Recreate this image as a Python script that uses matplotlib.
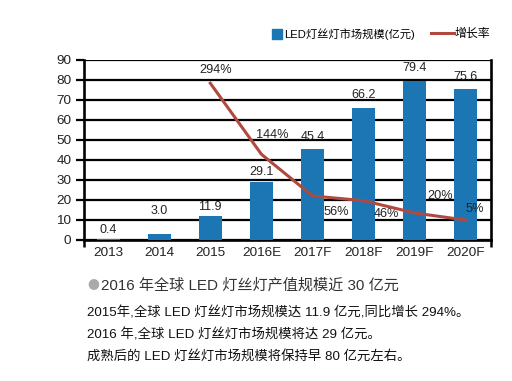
import matplotlib
matplotlib.use('Agg')
import matplotlib.pyplot as plt
from matplotlib.patches import Patch
from matplotlib.lines import Line2D

plt.rcParams['font.family'] = ['Liberation Sans', 'Noto Sans CJK SC', 'DejaVu Sans']

years = ['2013', '2014', '2015', '2016E', '2017F', '2018F', '2019F', '2020F']
market = [0.4, 3.0, 11.9, 29.1, 45.4, 66.2, 79.4, 75.6]
growth_years = ['2015', '2016E', '2017F', '2018F', '2019F', '2020F']
growth = [294, 144, 56, 46, 20, 5]
growth_labels = ['294%', '144%', '56%', '46%', '20%', '5%']
yticks = [0, 10, 20, 30, 40, 50, 60, 70, 80, 90]

bar_color = '#1b76b3'
line_color = '#b0493f'

# label offsets in pixels (x, y)
bar_lab_off = [9, 23, 9, 10, 12, 13, 13, 12]
growth_lab_off = [(5, 13), (11, 19), (24, -16), (23, -13), (25, 17), (9, 11)]


def main():
    fig = plt.figure(figsize=(5.12, 3.81), dpi=100)
    ax = fig.add_axes([84 / 512, 1 - 240 / 381, (491 - 84) / 512, 180 / 381])

    xs = list(range(len(years)))
    ax.bar(xs, market, width=0.45, color=bar_color, zorder=3)
    for x, v, off in zip(xs, market, bar_lab_off):
        ax.annotate('%.1f' % v, (x, v), xytext=(0, off), textcoords='offset pixels',
                    ha='center', va='center', fontsize=9, color='#222222', zorder=5)

    ax.set_xlim(-0.47, 7.49)
    ax.set_ylim(0, 90)
    ax.set_yticks(yticks)
    ax.set_xticks(xs)
    ax.set_xticklabels(years)
    ax.yaxis.grid(True, color='black', linewidth=1.6, zorder=1)
    ax.set_axisbelow(True)
    ax.tick_params(axis='y', direction='out', length=6, width=1.6, labelsize=9.7, pad=3,
                   right=True, colors='black')
    ax.tick_params(axis='x', length=0, labelsize=9.7, pad=5)
    ax.set_xticks([-0.47, 7.49], minor=True)
    ax.tick_params(axis='x', which='minor', direction='out', length=5, width=1.8)
    for s in ['left', 'right', 'bottom']:
        ax.spines[s].set_linewidth(1.9)
        ax.spines[s].set_color('black')
    ax.spines['top'].set_visible(False)
    for lab in ax.get_yticklabels() + ax.get_xticklabels():
        lab.set_color('#222222')

    # growth rate on hidden secondary scale
    ax2 = ax.twinx()
    ax2.set_ylim(-37, 343)
    gx = [years.index(y) for y in growth_years]
    ax2.plot(gx, growth, color=line_color, linewidth=2.2, zorder=4)
    for x, v, t, off in zip(gx, growth, growth_labels, growth_lab_off):
        ax2.annotate(t, (x, v), xytext=off, textcoords='offset pixels',
                     ha='center', va='center', fontsize=9.2, color='#222222')
    ax2.set_yticks([])
    for s in ax2.spines.values():
        s.set_visible(False)

    # legend
    fig.legend([Patch(color=bar_color)], ['LED灯丝灯市场规模(亿元)'], loc='center left',
               bbox_to_anchor=(272 / 512, 1 - 34 / 381), frameon=False, fontsize=8.1,
               handlelength=0.9, handleheight=0.9, handletextpad=0.15, borderpad=0,
               borderaxespad=0)
    fig.legend([Line2D([], [], color=line_color, linewidth=2.2)], ['增长率'], loc='center left',
               bbox_to_anchor=(431 / 512, 1 - 34 / 381), frameon=False, fontsize=8.6,
               handlelength=1.9, handletextpad=0.05, borderpad=0, borderaxespad=0)

    # text block
    fig.text(93 / 512, 1 - 286 / 381, '●', color='#aaaaaa', fontsize=8.5, ha='center', va='center',
             family=['Noto Sans CJK SC', 'DejaVu Sans'])
    fig.text(101 / 512, 1 - 286 / 381, '2016 年全球 LED 灯丝灯产值规模近 30 亿元',
             fontsize=10.9, color='#333333', ha='left', va='center')
    body = ['2015年,全球 LED 灯丝灯市场规模达 11.9 亿元,同比增长 294%。',
            '2016 年,全球 LED 灯丝灯市场规模将达 29 亿元。',
            '成熟后的 LED 灯丝灯市场规模将保持早 80 亿元左右。']
    for i, line in enumerate(body):
        fig.text(87 / 512, 1 - (313 + 21.5 * i) / 381, line, fontsize=9.6, color='#111111',
                 ha='left', va='center', fontweight='medium')

    fig.savefig('out.png', dpi=100)


if __name__ == '__main__':
    main()
